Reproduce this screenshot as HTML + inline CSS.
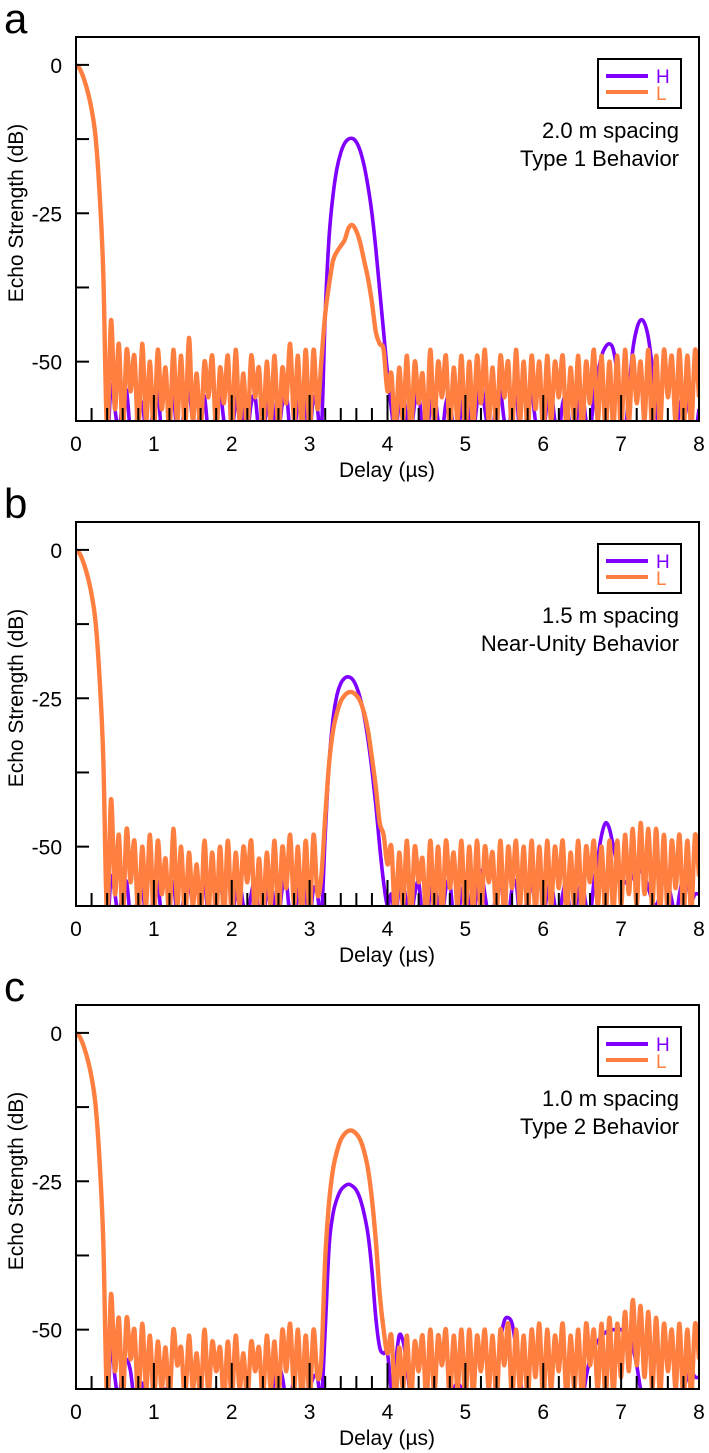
<!DOCTYPE html>
<html><head><meta charset="utf-8">
<style>
html,body{margin:0;padding:0;background:#fff;}
svg{display:block;font-family:"Liberation Sans",Arial,sans-serif;}
</style></head>
<body>
<svg id="fig" width="709" height="1453" viewBox="0 0 709 1453" xmlns="http://www.w3.org/2000/svg"></svg>
<script>
// ---- data ----
const xTickLabels = ["0","1","2","3","4","5","6","7","8"];
const yTickValues = [0,-25,-50];
const yTickLabels = ["0","-25","-50"];
const panelLetters = ["a","b","c"];
const spacingLabels = ["2.0 m spacing","1.5 m spacing","1.0 m spacing"];
const behaviorLabels = ["Type 1 Behavior","Near-Unity Behavior","Type 2 Behavior"];
const delayStep = 0.05; // µs between samples, 0..8

const aL = [0,-0.7,-2.3,-4.5,-7.5,-12,-21,-35,-62,-43,-58,-47,-62,-48,-55,-49,-62,-47,-60,-50,
-62,-48,-58,-51,-62,-48,-60,-49,-62,-46,-60,-52,-62,-50,-56,-49,-62,-51,-57,-49,
-62,-48,-60,-52,-62,-49,-56,-51,-62,-50,-60,-49,-62,-51,-57,-47,-60,-49,-62,-48,
-62,-48,-58,-50,-42,-37,-33,-31.5,-30.5,-29.5,-27.5,-27,-28,-30,-33,-36,-40,-45,-47,-48,
-55,-52,-62,-51,-60,-49,-62,-50,-57,-52,-62,-48,-61,-50,-56,-49,-62,-51,-60,-49,
-62,-50,-61,-49,-57,-48,-60,-51,-62,-49,-56,-50,-62,-48,-60,-50,-62,-49,-58,-50,
-62,-49,-60,-50,-56,-49,-62,-51,-60,-49,-62,-50,-57,-48,-60,-49,-62,-50,-61,-49,
-62,-48,-60,-49,-57,-50,-60,-48,-62,-49,-61,-48,-56,-49,-60,-48,-62,-49,-61,-48,-56];
const aH = [0,-0.7,-2.3,-4.5,-7.5,-12,-21,-35,-62,-54,-58,-62,-56,-55,-62,-62,-58,-57,-62,-62,
-57,-55,-62,-62,-58,-56,-62,-62,-57,-55,-60,-62,-57,-56,-62,-62,-58,-55,-60,-62,
-62,-57,-55,-60,-62,-57,-56,-62,-62,-58,-55,-60,-62,-57,-55,-62,-62,-57,-55,-58,
-62,-56,-58,-62,-42,-29,-22,-17.5,-14.8,-13.2,-12.5,-12.4,-13,-14.5,-17,-20.5,-25,-31,-38,-45,
-52,-58,-62,-57,-55,-60,-62,-57,-55,-62,-62,-58,-55,-60,-62,-57,-56,-62,-62,-58,
-55,-60,-62,-57,-53,-58,-62,-62,-56,-55,-60,-62,-57,-55,-62,-62,-58,-55,-60,-62,
-62,-57,-55,-60,-62,-57,-56,-62,-62,-58,-55,-60,-62,-56,-52,-49,-47.5,-47,-48,-52,
-58,-62,-55,-48,-44.5,-43,-43.5,-46,-51,-58,-62,-62,-62,-62,-62,-58,-55,-57,-60,-62,-58];

const bL = [0,-0.7,-2.3,-4.5,-7.5,-12,-21,-35,-62,-42,-58,-48,-62,-47,-56,-49,-62,-50,-60,-48,
-62,-49,-58,-52,-62,-47,-60,-50,-62,-51,-60,-53,-62,-49,-61,-51,-62,-50,-62,-49,
-62,-51,-60,-50,-56,-49,-62,-52,-62,-51,-60,-49,-62,-50,-57,-48,-60,-50,-62,-49,
-62,-48,-58,-55,-45,-36,-30.5,-27.5,-25.5,-24.5,-24,-24,-24.5,-25.5,-27.5,-30.5,-35,-40,-46,-48,
-53,-50,-62,-51,-60,-49,-62,-50,-56,-52,-62,-49,-61,-50,-62,-49,-57,-51,-60,-49,
-62,-50,-61,-49,-62,-50,-56,-51,-62,-49,-62,-50,-57,-49,-60,-50,-62,-49,-61,-50,
-62,-49,-60,-50,-57,-49,-62,-51,-60,-49,-62,-50,-56,-49,-60,-50,-62,-49,-61,-49,
-60,-48,-58,-47,-60,-46,-58,-47,-60,-47,-61,-48,-62,-49,-57,-48,-62,-49,-61,-48,-55];
const bH = [0,-0.7,-2.3,-4.5,-7.5,-12,-21,-35,-62,-55,-58,-62,-57,-56,-62,-62,-58,-57,-62,-62,
-58,-56,-62,-62,-58,-56,-62,-62,-57,-56,-60,-62,-58,-56,-62,-62,-58,-56,-60,-62,
-62,-58,-56,-60,-62,-58,-56,-62,-62,-58,-56,-60,-62,-57,-56,-62,-62,-58,-56,-58,
-62,-57,-58,-62,-48,-36,-28.5,-24.5,-22.5,-21.6,-21.4,-21.8,-23,-25,-28,-32,-37,-43,-50,-56,
-60,-58,-62,-57,-56,-60,-62,-58,-56,-62,-62,-58,-56,-60,-62,-57,-56,-62,-62,-58,
-56,-60,-62,-57,-54,-58,-62,-62,-57,-56,-60,-62,-57,-56,-62,-62,-58,-56,-60,-62,
-62,-58,-56,-60,-62,-58,-56,-62,-62,-58,-56,-60,-62,-56,-52,-48,-46,-47,-50,-53,
-55,-56,-56,-55,-54,-54,-55,-57,-59,-60,-58,-55,-56,-59,-62,-58,-55,-56,-59,-58,-58];

const cL = [0,-0.7,-2.3,-4.5,-7.5,-12,-21,-35,-62,-44,-57,-48,-62,-48,-55,-50,-62,-49,-60,-51,
-62,-52,-60,-53,-62,-50,-56,-53,-62,-51,-60,-54,-62,-50,-61,-52,-57,-53,-62,-52,
-62,-51,-60,-54,-62,-52,-57,-53,-62,-51,-60,-52,-62,-50,-57,-49,-60,-50,-62,-51,
-62,-50,-58,-55,-38,-28.5,-23,-20,-18,-17,-16.5,-16.5,-17,-18,-20,-23,-28,-35,-44,-50,
-54,-51,-62,-53,-60,-51,-62,-52,-57,-51,-62,-50,-61,-51,-56,-50,-62,-51,-60,-50,
-62,-50,-61,-51,-57,-50,-60,-51,-62,-50,-56,-49,-62,-50,-60,-51,-62,-50,-58,-49,
-62,-50,-60,-51,-57,-49,-62,-51,-60,-50,-62,-49,-56,-50,-60,-49,-62,-48,-61,-49,
-58,-47,-57,-45,-56,-46,-58,-47,-60,-48,-61,-49,-57,-50,-60,-49,-62,-50,-61,-49,-55];
const cH = [0,-0.7,-2.3,-4.5,-7.5,-12,-21,-35,-62,-52,-58,-62,-56,-55,-57,-62,-62,-59,-62,-62,
-62,-62,-62,-60,-62,-62,-62,-62,-60,-62,-62,-62,-62,-62,-62,-62,-60,-62,-62,-62,
-62,-62,-62,-62,-62,-62,-62,-62,-62,-62,-62,-58,-56,-58,-62,-62,-58,-56,-58,-62,
-60,-58,-58,-62,-50,-36,-30.5,-28,-26.5,-25.8,-25.5,-25.8,-26.5,-28,-30.5,-34,-40,-48,-53,-54,
-54,-60,-56,-51,-52,-56,-62,-62,-62,-62,-62,-62,-62,-62,-62,-62,-62,-60,-59,-60,
-62,-62,-62,-62,-62,-62,-62,-62,-58,-52,-48.5,-48,-49,-53,-58,-62,-62,-62,-62,-62,
-62,-62,-62,-62,-62,-62,-62,-62,-62,-62,-62,-58,-55,-53,-52,-51,-50.5,-50,-50,-50,
-50,-50.5,-51,-53,-56,-60,-62,-62,-62,-62,-62,-62,-62,-62,-62,-62,-60,-58,-57,-58,-58];

const seriesH = [aH, bH, cH];
const seriesL = [aL, bL, cL];

// ---- layout ----
const NS = "http://www.w3.org/2000/svg";
const svg = document.getElementById("fig");
const panelTops = [37, 522, 1005];
const X0 = 76, X1 = 699, PH = 384;
const YMAX = 4.7, YMIN = -60;
function xScale(v){ return X0 + (v/8)*(X1-X0); }
function mk(tag, attrs, parent){
  const e = document.createElementNS(NS, tag);
  for (const k in attrs) e.setAttribute(k, attrs[k]);
  (parent||svg).appendChild(e);
  return e;
}
function smoothPath(pts){
  let d = "M" + pts[0][0].toFixed(2) + "," + pts[0][1].toFixed(2);
  for (let i = 0; i < pts.length-1; i++) {
    const p0 = pts[Math.max(0,i-1)], p1 = pts[i], p2 = pts[i+1], p3 = pts[Math.min(pts.length-1,i+2)];
    const c1x = p1[0] + (p2[0]-p0[0])/6, c1y = p1[1] + (p2[1]-p0[1])/6;
    const c2x = p2[0] - (p3[0]-p1[0])/6, c2y = p2[1] - (p3[1]-p1[1])/6;
    d += "C" + c1x.toFixed(2) + "," + c1y.toFixed(2) + " " + c2x.toFixed(2) + "," + c2y.toFixed(2) + " " + p2[0].toFixed(2) + "," + p2[1].toFixed(2);
  }
  return d;
}

for (let p = 0; p < 3; p++) {
  const top = panelTops[p];
  const yScale = v => top + (YMAX - v)/(YMAX - YMIN)*PH;
  const g = mk("g", {});
  
  

  const clip = mk("clipPath", {id: "clip"+p}, g);
  mk("rect", {x: X0, y: top, width: X1-X0, height: PH}, clip);

  const drawSeries = (arr, color, w, name) => {
    const pts = arr.map((v, i) => [xScale(i*delayStep), yScale(v)]);
    const path = mk("path", {d: smoothPath(pts), fill: "none", stroke: color, "stroke-width": w, "stroke-linejoin": "round", "clip-path": "url(#clip"+p+")"}, g);
    
    
  };
  drawSeries(seriesH[p], "#7f00ff", 3.6, "series-h-line");
  drawSeries(seriesL[p], "#ff7f40", 4.4, "series-l-line");

  const frame = mk("rect", {x: X0, y: top, width: X1-X0, height: PH, fill: "none", stroke: "#000", "stroke-width": 2}, g);
  
  

  for (let k = 1; k < 40; k++) {
    const xv = k*0.2;
    const major = (k % 5 === 0);
    const t = mk("line", {x1: xScale(xv), x2: xScale(xv), y1: top+PH, y2: top+PH-(major?26:13), stroke: "#000", "stroke-width": 2}, g);
    
    
  }
  for (let k = 0; k < xTickLabels.length; k++) {
    const tx = mk("text", {x: xScale(k), y: top+PH+30, "font-size": 21, "text-anchor": "middle"}, g);
    tx.textContent = xTickLabels[k];
    
    
  }
  for (const yv of [0,-12.5,-25,-37.5,-50]) {
    const t = mk("line", {x1: X0, x2: X0+13, y1: yScale(yv), y2: yScale(yv), stroke: "#000", "stroke-width": 2}, g);
    
    
  }
  for (let k = 0; k < yTickValues.length; k++) {
    const tx = mk("text", {x: 62, y: yScale(yTickValues[k])+8, "font-size": 21, "text-anchor": "end"}, g);
    tx.textContent = yTickLabels[k];
    
    
  }
  const xt = mk("text", {x: 387, y: top+PH+56, "font-size": 21, "text-anchor": "middle"}, g);
  xt.textContent = "Delay (µs)";
  
  
  const yt = mk("text", {x: 0, y: 0, "font-size": 21, "text-anchor": "middle", transform: "translate(23,"+(top+176)+") rotate(-90)"}, g);
  yt.textContent = "Echo Strength (dB)";
  
  
  const pl = mk("text", {x: 4, y: top-4, "font-size": 42}, g);
  pl.textContent = panelLetters[p];
  
  

  const lg = mk("g", {}, g);
  
  
  mk("rect", {x: 598, y: top+22, width: 83, height: 49, fill: "#fff", stroke: "#000", "stroke-width": 2}, lg);
  const lh = mk("line", {x1: 606, x2: 648, y1: top+39, y2: top+39, stroke: "#7f00ff", "stroke-width": 4}, lg);
  
  
  const ll = mk("line", {x1: 606, x2: 648, y1: top+55, y2: top+55, stroke: "#ff7f40", "stroke-width": 4}, lg);
  
  
  const th = mk("text", {x: 656, y: top+46, "font-size": 19, fill: "#7f00ff"}, lg);
  th.textContent = "H";
  
  
  const tl = mk("text", {x: 656, y: top+63, "font-size": 19, fill: "#ff7f40"}, lg);
  tl.textContent = "L";
  
  

  const a1 = mk("text", {x: 679, y: top+101, "font-size": 22, "text-anchor": "end"}, g);
  a1.textContent = spacingLabels[p];
  
  
  const a2 = mk("text", {x: 679, y: top+129, "font-size": 22, "text-anchor": "end"}, g);
  a2.textContent = behaviorLabels[p];
  
  
}
</script>
</body></html>
